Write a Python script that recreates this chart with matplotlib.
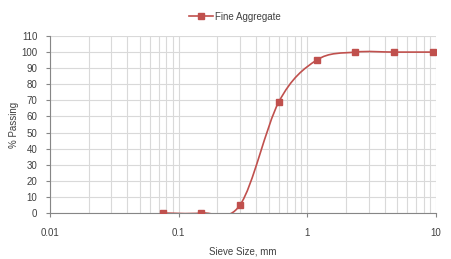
import numpy as np
import matplotlib
matplotlib.use('Agg')
import matplotlib.pyplot as plt
from matplotlib.path import Path
from matplotlib.patches import PathPatch
from matplotlib.lines import Line2D
from matplotlib.ticker import LogLocator, FixedLocator, FuncFormatter

# sieve sizes (mm) and % passing
sieve_mm = [0.075, 0.15, 0.3, 0.6, 1.18, 2.36, 4.75, 9.5]
passing = [0, 0, 5, 69, 95, 100, 100, 100]
series_name = 'Fine Aggregate'
x_ticks = [0.01, 0.1, 1, 10]
x_tick_labels = ['0.01', '0.1', '1', '10']
y_ticks = list(range(0, 111, 10))

RED = '#c0504d'
GRID = '#d9d9d9'
AXIS = '#868686'
TEXT = '#404040'

plt.rcParams['font.family'] = ['Liberation Sans', 'DejaVu Sans']


def smooth_path(xs, ys):
    # Excel-style smoothed line: Bezier segments built in log-x space,
    # handed back in data units so the log axis draws them
    lx = np.log10(xs)
    ys = np.asarray(ys, dtype=float)
    n = len(lx)
    verts = [(xs[0], ys[0])]
    codes = [Path.MOVETO]
    for i in range(n - 1):
        i0 = max(i - 1, 0)
        i3 = min(i + 2, n - 1)
        c1x = lx[i] + (lx[i + 1] - lx[i0]) / 6
        c1y = ys[i] + (ys[i + 1] - ys[i0]) / 6
        c2x = lx[i + 1] - (lx[i3] - lx[i]) / 6
        c2y = ys[i + 1] - (ys[i3] - ys[i]) / 6
        verts += [(10 ** c1x, c1y), (10 ** c2x, c2y), (xs[i + 1], ys[i + 1])]
        codes += [Path.CURVE4] * 3
    return Path(verts, codes)


fig = plt.figure(figsize=(4.52, 2.59), dpi=100)
ax = fig.add_axes([0.1106, 0.1776, 0.854, 0.6834])

ax.set_xscale('log')
ax.set_xlim(0.01, 10)
ax.set_ylim(0, 110)

curve = PathPatch(smooth_path(sieve_mm, passing), facecolor='none',
                  edgecolor=RED, linewidth=1.2, zorder=3)
ax.add_patch(curve)
ax.plot(sieve_mm, passing, linestyle='none', marker='s', markersize=5,
        color=RED, zorder=4)

ax.xaxis.set_major_locator(FixedLocator(x_ticks))
ax.xaxis.set_major_formatter(FuncFormatter(lambda v, p: x_tick_labels[x_ticks.index(v)] if v in x_ticks else ''))
ax.xaxis.set_minor_locator(LogLocator(base=10, subs=np.arange(2, 10)))
ax.xaxis.set_minor_formatter(FuncFormatter(lambda v, p: ''))
ax.set_yticks(y_ticks)

ax.grid(True, which='both', axis='x', color=GRID, linewidth=0.8)
ax.grid(True, which='major', axis='y', color=GRID, linewidth=0.8)
ax.set_axisbelow(True)

for s in ['top', 'right']:
    ax.spines[s].set_visible(False)
for s in ['left', 'bottom']:
    ax.spines[s].set_color(AXIS)
    ax.spines[s].set_linewidth(0.8)

ax.tick_params(axis='both', which='major', length=3, width=0.8, color=AXIS,
               labelsize=7, labelcolor=TEXT, pad=6)
ax.tick_params(axis='x', which='minor', length=0)
ax.tick_params(axis='x', which='major', pad=8)

ax.set_xlabel('Sieve Size, mm', fontsize=7, color=TEXT, labelpad=6)
ax.set_ylabel('% Passing', fontsize=7, color=TEXT, labelpad=2)

handle = Line2D([], [], color=RED, linewidth=1.2, marker='s', markersize=4)
fig.legend([handle], [series_name], loc='center', bbox_to_anchor=(0.52, 0.935),
           frameon=False, fontsize=7, handlelength=2.5, handletextpad=0.2,
           labelcolor=TEXT)

fig.savefig('out.png', dpi=100)
